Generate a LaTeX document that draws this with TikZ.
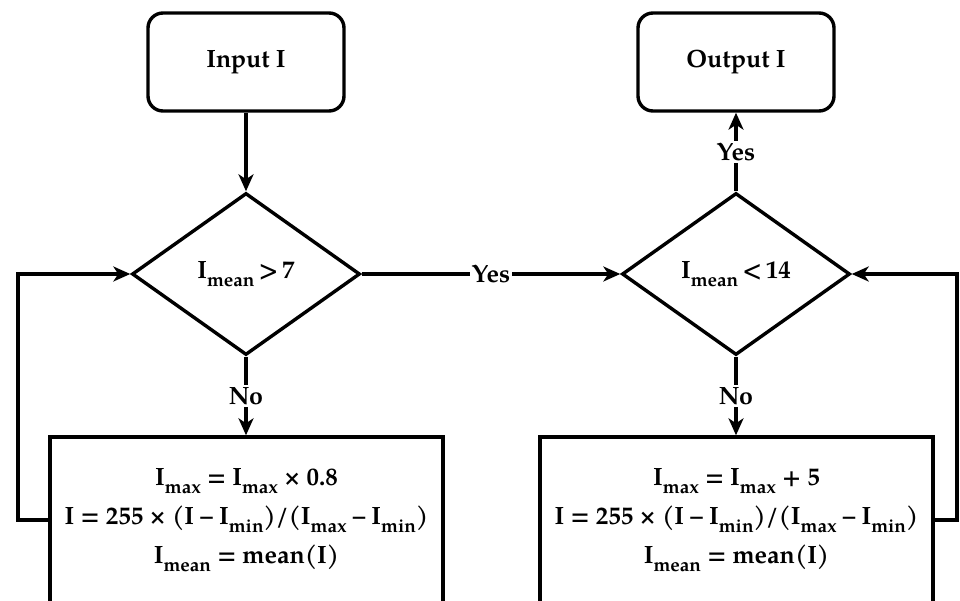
\documentclass[tikz,border=0pt]{standalone}
\usepackage{fontspec}
\setmainfont{TeX Gyre Pagella}
\usetikzlibrary{shapes.geometric,arrows.meta}
\newcommand{\Isb}[1]{I\raisebox{-0.32em}{\fontsize{19}{19}\selectfont #1}}
\begin{document}
\begin{tikzpicture}[x=1pt,y=-1pt,
  every node/.style={font=\fontsize{25}{39}\selectfont\bfseries},
  term/.style={draw, rounded corners=15pt, minimum width=196pt, minimum height=98pt, line width=3.4pt, inner sep=0pt},
  decision/.style={draw, diamond, minimum width=228pt, minimum height=162pt, inner sep=0pt, line width=3.4pt},
  proc/.style={draw, rectangle, minimum width=393pt, minimum height=166pt, align=center, line width=3.4pt, inner sep=0pt},
  lab/.style={fill=white, inner sep=2pt},
  flow/.style={line width=3.4pt, -{Stealth[length=17pt,width=15pt,inset=5pt]}}]
\clip (0,0) rectangle (960,601);
\node[term] (in) at (246,62) {Input I};
\node[term] (out) at (736,62) {Output I};
\node[decision] (d1) at (246,274) {\Isb{mean}\,>\,7};
\node[decision] (d2) at (736,274) {\Isb{mean}\,<\,14};
\node[proc] (b1) at (246.5,520) {\Isb{max} = \Isb{max} × 0.8\\ I = 255 × (I – \Isb{min})/(\Isb{max} – \Isb{min})\\ \Isb{mean} = mean(I)};
\node[proc] (b2) at (736.5,520) {\Isb{max} = \Isb{max} + 5\\ I = 255 × (I – \Isb{min})/(\Isb{max} – \Isb{min})\\ \Isb{mean} = mean(I)};
\coordinate (fl) at (18,520);
\coordinate (fr) at (957,520);
\draw[flow] (in) -- (d1);
\draw[flow] (d1) -- node[lab]{No} (b1.north -| d1.south);
\draw[flow] (d1) -- node[lab]{Yes} (d2);
\draw[flow] (d2) -- node[lab]{Yes} (out);
\draw[flow] (d2) -- node[lab]{No} (b2.north -| d2.south);
\draw[flow] (b1.west) -- (fl) |- (d1.west);
\draw[flow] (b2.east) -- (fr) |- (d2.east);
\end{tikzpicture}
\end{document}
